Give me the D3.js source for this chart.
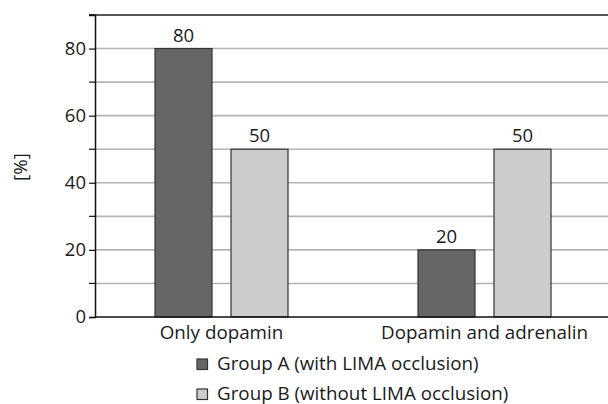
<!DOCTYPE html>
<html>
<head>
<meta charset="utf-8">
<script src="https://cdn.jsdelivr.net/npm/d3@7"></script>
<style>
  html, body { margin: 0; padding: 0; background: #fff; }
  svg { display: block; font-family: "Open Sans", sans-serif; }
</style>
</head>
<body>
<svg id="chart" width="608" height="404"></svg>
<script>
// Share of patients per treatment, by group
const categories = ["Only dopamin", "Dopamin and adrenalin"];
const groups = ["Group A (with LIMA occlusion)", "Group B (without LIMA occlusion)"];
const groupA = [80, 20];
const groupB = [50, 50];
const yTicks = [0, 20, 40, 60, 80];
const yMinorTicks = [10, 30, 50, 70, 90];
const yLabel = "[%]";

const colors = ["#666666", "#cccccc"];
const series = [groupA, groupB];

const svg = d3.select("#chart");
const plotLeft = 95, plotBottom = 317, plotTop = 15, plotRight = 608;
const textSize = 18.8, numSize = 18.5;

const y = d3.scaleLinear().domain([0, 90]).range([plotBottom, plotTop]);
const x0 = d3.scaleBand().domain(categories).range([90, 616]).padding(0);
const half = x0.bandwidth() / 2;
const x1 = d3.scaleBand().domain(d3.range(groups.length))
  .range([half - 66.5, half + 66.5]).paddingInner(0.25).paddingOuter(0);

// horizontal grid every 10 units
const gridVals = d3.range(10, 90, 10);
svg.append("g").selectAll("line").data(gridVals).join("line")
  .attr("x1", plotLeft).attr("x2", plotRight)
  .attr("y1", d => y(d)).attr("y2", d => y(d))
  .attr("stroke", "#b4b4b4").attr("stroke-width", 1.6);

// top frame line
svg.append("line")
  .attr("x1", plotLeft - 6).attr("x2", plotRight)
  .attr("y1", y(90)).attr("y2", y(90))
  .attr("stroke", "#555").attr("stroke-width", 2);

// bars
const bars = [];
categories.forEach((c, i) => series.forEach((s, g) => bars.push({ c, g, v: s[i] })));

svg.append("g").selectAll("rect").data(bars).join("rect")
  .attr("x", d => x0(d.c) + x1(d.g))
  .attr("y", d => y(d.v))
  .attr("width", x1.bandwidth())
  .attr("height", d => y(0) - y(d.v))
  .attr("fill", d => colors[d.g])
  .attr("stroke", "#333").attr("stroke-width", 1.2);

// value labels
svg.append("g").selectAll("text").data(bars).join("text")
  .attr("x", d => x0(d.c) + x1(d.g) + x1.bandwidth() / 2)
  .attr("y", d => y(d.v) - 7)
  .attr("text-anchor", "middle")
  .attr("font-size", numSize).attr("fill", "#1a1a1a")
  .text(d => d.v);

// y axis
const yAxis = svg.append("g").attr("transform", `translate(${plotLeft},0)`)
  .call(d3.axisLeft(y).tickValues(yTicks).tickSize(6).tickPadding(3).tickFormat(d3.format("d")));
yAxis.select(".domain").attr("stroke", "#111").attr("stroke-width", 1.5);
yAxis.selectAll(".tick line").attr("stroke", "#111").attr("stroke-width", 1.2);
yAxis.selectAll(".tick text").attr("font-size", numSize).attr("fill", "#1a1a1a")
  .attr("font-family", "Open Sans, sans-serif");

svg.append("g").selectAll("line").data(yMinorTicks).join("line")
  .attr("x1", plotLeft - 6).attr("x2", plotLeft)
  .attr("y1", d => y(d)).attr("y2", d => y(d))
  .attr("stroke", "#111").attr("stroke-width", 1.2);

// x axis baseline
svg.append("line")
  .attr("x1", plotLeft).attr("x2", plotRight)
  .attr("y1", y(0)).attr("y2", y(0))
  .attr("stroke", "#111").attr("stroke-width", 1.5);

// category labels
svg.append("g").selectAll("text").data(categories).join("text")
  .attr("x", d => x0(d) + half)
  .attr("y", 338.5)
  .attr("text-anchor", "middle")
  .attr("font-size", textSize).attr("fill", "#1a1a1a")
  .text(d => d);

// y axis title
svg.append("text")
  .attr("transform", "translate(27,167) rotate(-90)")
  .attr("text-anchor", "middle")
  .attr("font-size", textSize).attr("fill", "#1a1a1a")
  .text(yLabel);

// legend
const legend = svg.append("g").selectAll("g").data(groups).join("g")
  .attr("transform", (d, i) => `translate(197,${359 + i * 30})`);
legend.append("rect")
  .attr("width", 10.5).attr("height", 10.5)
  .attr("fill", (d, i) => colors[i])
  .attr("stroke", "#333").attr("stroke-width", 1.2);
legend.append("text")
  .attr("x", 20).attr("y", 10.5)
  .attr("font-size", textSize).attr("fill", "#1a1a1a")
  .text(d => d);
</script>
</body>
</html>
